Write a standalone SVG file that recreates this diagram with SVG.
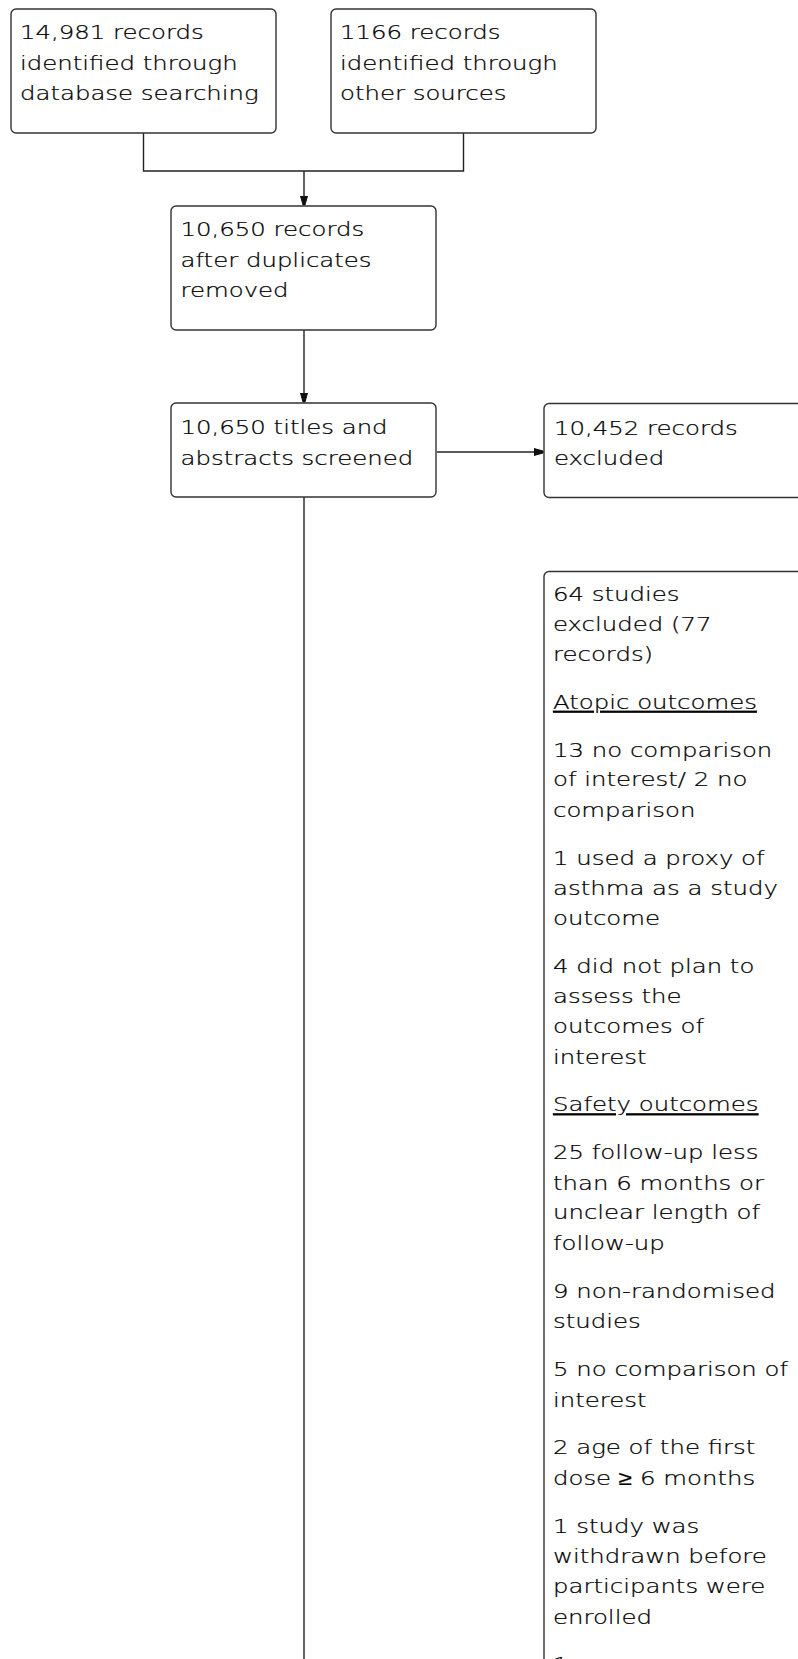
<svg xmlns="http://www.w3.org/2000/svg" width="798" height="1659" viewBox="0 0 798 1659">
<style>
.box{fill:#fff;stroke:#333;stroke-width:1.4}
.t{font-family:"DejaVu Sans","Verdana",sans-serif;font-size:20px;font-weight:200;fill:#000;stroke:#000;stroke-width:0.25}
.u{text-decoration:underline}
.c{fill:none;stroke:#222;stroke-width:1.4}
</style>
<defs>
<marker id="ah" markerWidth="10" markerHeight="10" refX="9" refY="5" orient="auto" markerUnits="userSpaceOnUse">
<path d="M0,1.5 L9,4 L9,6 L0,8.5 Z M0,1.5 L0,8.5" fill="#111" stroke="#111" stroke-width="1"/>
</marker>
</defs>
<rect width="798" height="1659" fill="#fff"/>
<g id="connectors">
<path class="c" d="M143.5,133 V171 H463.5 V133"/>
<path class="c" d="M304,171 V205" marker-end="url(#ah)"/>
<path class="c" d="M304,330 V402" marker-end="url(#ah)"/>
<path class="c" d="M437,452 H543" marker-end="url(#ah)"/>
<path class="c" d="M304,497 V1659"/>
</g>
<g id="n1">
<rect class="box" x="11" y="9" width="265" height="124" rx="5"/>
<text class="t" transform="matrix(1.22,0,0,1,20,0)"><tspan x="0" y="39.5">14,981 records</tspan><tspan x="0" y="70">identified through</tspan><tspan x="0" y="100.5">database searching</tspan></text>
</g>
<g id="n2">
<rect class="box" x="331" y="9" width="265" height="124" rx="5"/>
<text class="t" transform="matrix(1.22,0,0,1,340,0)"><tspan x="0" y="39.5">1166 records</tspan><tspan x="0" y="70">identified through</tspan><tspan x="0" y="100.5">other sources</tspan></text>
</g>
<g id="n3">
<rect class="box" x="171" y="206" width="265" height="124" rx="5"/>
<text class="t" transform="matrix(1.22,0,0,1,180.5,0)"><tspan x="0" y="236">10,650 records</tspan><tspan x="0" y="267">after duplicates</tspan><tspan x="0" y="297.5">removed</tspan></text>
</g>
<g id="n4">
<rect class="box" x="171" y="403" width="265" height="94" rx="5"/>
<text class="t" transform="matrix(1.22,0,0,1,180.5,0)"><tspan x="0" y="434">10,650 titles and</tspan><tspan x="0" y="465">abstracts screened</tspan></text>
</g>
<g id="n5">
<rect class="box" x="544" y="403.5" width="300" height="94" rx="5"/>
<text class="t" transform="matrix(1.22,0,0,1,554,0)"><tspan x="0" y="435">10,452 records</tspan><tspan x="0" y="465">excluded</tspan></text>
</g>
<g id="n6">
<rect class="box" x="544" y="571.5" width="300" height="1200" rx="5"/>
<text class="t" transform="matrix(1.22,0,0,1,553,0)">
<tspan x="0" y="601">64 studies</tspan>
<tspan x="0" y="631">excluded (77</tspan>
<tspan x="0" y="661">records)</tspan>
<tspan x="0" y="709" class="u">Atopic outcomes</tspan>
<tspan x="0" y="757">13 no comparison</tspan>
<tspan x="0" y="786.5">of interest/ 2 no</tspan>
<tspan x="0" y="817">comparison</tspan>
<tspan x="0" y="865">1 used a proxy of</tspan>
<tspan x="0" y="895.5">asthma as a study</tspan>
<tspan x="0" y="925">outcome</tspan>
<tspan x="0" y="973">4 did not plan to</tspan>
<tspan x="0" y="1003.5">assess the</tspan>
<tspan x="0" y="1033">outcomes of</tspan>
<tspan x="0" y="1064">interest</tspan>
<tspan x="0" y="1111.5" class="u">Safety outcomes</tspan>
<tspan x="0" y="1159">25 follow-up less</tspan>
<tspan x="0" y="1190">than 6 months or</tspan>
<tspan x="0" y="1219.5">unclear length of</tspan>
<tspan x="0" y="1250">follow-up</tspan>
<tspan x="0" y="1298">9 non-randomised</tspan>
<tspan x="0" y="1328.5">studies</tspan>
<tspan x="0" y="1376">5 no comparison of</tspan>
<tspan x="0" y="1407">interest</tspan>
<tspan x="0" y="1454.5">2 age of the first</tspan>
<tspan x="0" y="1485">dose ≥ 6 months</tspan>
<tspan x="0" y="1533">1 study was</tspan>
<tspan x="0" y="1563.5">withdrawn before</tspan>
<tspan x="0" y="1593">participants were</tspan>
<tspan x="0" y="1624">enrolled</tspan>
<tspan x="0" y="1671">1</tspan>
</text>
</g>
</svg>
